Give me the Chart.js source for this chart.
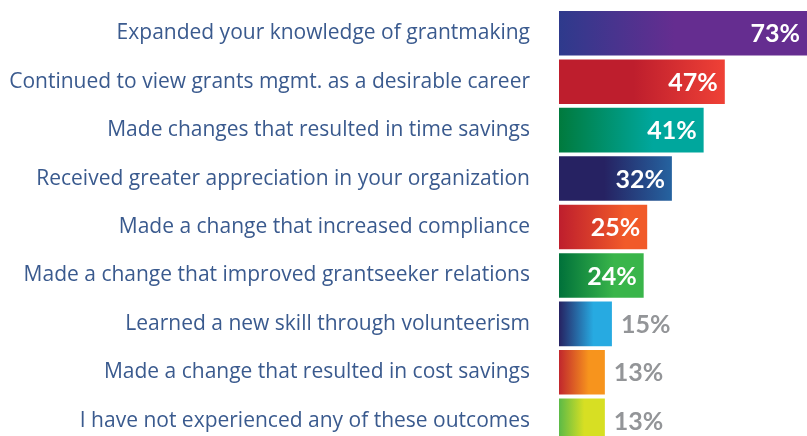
<!DOCTYPE html>
<html>
<head>
<meta charset="utf-8">
<script src="https://cdn.jsdelivr.net/npm/chart.js@4.4.1/dist/chart.umd.min.js"></script>
<style>
  html, body { margin: 0; padding: 0; background: #ffffff; overflow: hidden; }
  canvas { display: block; }
</style>
</head>
<body>
<canvas id="resultadosChart" width="807" height="445"></canvas>
<script>
const categorias = [
    "Expanded your knowledge of grantmaking",
    "Continued to view grants mgmt. as a desirable career",
    "Made changes that resulted in time savings",
    "Received greater appreciation in your organization",
    "Made a change that increased compliance",
    "Made a change that improved grantseeker relations",
    "Learned a new skill through volunteerism",
    "Made a change that resulted in cost savings",
    "I have not experienced any of these outcomes"
];
const percentuais = [73, 47, 41, 32, 25, 24, 15, 13, 13];

// cor inicial, ponto de transicao, cor final de cada barra
const coresInicio = ["#2e3a8c", "#be1e2d", "#007a3d", "#262262", "#be1e2d", "#00713a", "#262262", "#c1272d", "#5cba47"];
const coresFim = ["#652d90", "#ef4136", "#00a79d", "#2563a0", "#f15a29", "#39b54a", "#27aae1", "#f7941d", "#d7df23"];
const paradaInicio = [0.0, 0.45, 0.0, 0.4, 0.0, 0.0, 0.0, 0.0, 0.0];
const paradaFim = [0.45, 1.0, 0.65, 1.0, 0.75, 0.65, 0.65, 0.65, 0.55];

const corTexto = "#3a5a8e";
const corCinza = "#939598";

function gradienteBarra(ctx) {
    const chart = ctx.chart;
    const i = ctx.dataIndex;
    const x = chart.scales.x;
    if (!x || i === undefined || !chart.chartArea) return coresFim[i || 0];
    const x0 = x.getPixelForValue(0);
    const x1 = x.getPixelForValue(percentuais[i]);
    if (!isFinite(x0) || !isFinite(x1) || x1 <= x0) return coresFim[i];
    const g = chart.ctx.createLinearGradient(x0, 0, x1, 0);
    g.addColorStop(paradaInicio[i], coresInicio[i]);
    g.addColorStop(paradaFim[i], coresFim[i]);
    return g;
}

const rotulosValores = {
    id: "rotulosValores",
    afterDatasetsDraw(chart) {
        const ctx = chart.ctx;
        const meta = chart.getDatasetMeta(0);
        ctx.save();
        ctx.font = "bold 25px Lato, 'Open Sans', sans-serif";
        ctx.textBaseline = "middle";
        meta.data.forEach((barra, i) => {
            const texto = percentuais[i] + "%";
            const largura = barra.x - barra.base;
            if (largura > 80) {
                ctx.fillStyle = "#ffffff";
                ctx.textAlign = "right";
                ctx.fillText(texto, Math.min(barra.x, chart.chartArea.right) - 7, barra.y + 1);
            } else {
                ctx.fillStyle = corCinza;
                ctx.textAlign = "left";
                ctx.fillText(texto, barra.x + 9, barra.y + 1);
            }
        });
        ctx.restore();
    }
};

new Chart(document.getElementById("resultadosChart"), {
    type: "bar",
    data: {
        labels: categorias,
        datasets: [{
            data: percentuais,
            backgroundColor: gradienteBarra,
            borderWidth: 0,
            barPercentage: 0.92,
            categoryPercentage: 1.0
        }]
    },
    options: {
        indexAxis: "y",
        responsive: false,
        animation: false,
        layout: { padding: { top: 9, right: 0, bottom: 0, left: 0 } },
        plugins: {
            legend: { display: false },
            tooltip: { enabled: false }
        },
        scales: {
            x: {
                display: false,
                min: 0,
                max: 70.3
            },
            y: {
                border: { display: false },
                grid: { display: false, drawTicks: false },
                ticks: {
                    color: corTexto,
                    padding: 29,
                    font: { family: "'Open Sans', sans-serif", size: 21, weight: "normal" }
                },
                afterFit(escala) {
                    escala.width = 559;
                    escala.paddingTop = 0;
                    escala.paddingBottom = 0;
                }
            }
        }
    },
    plugins: [rotulosValores]
});
</script>
</body>
</html>
